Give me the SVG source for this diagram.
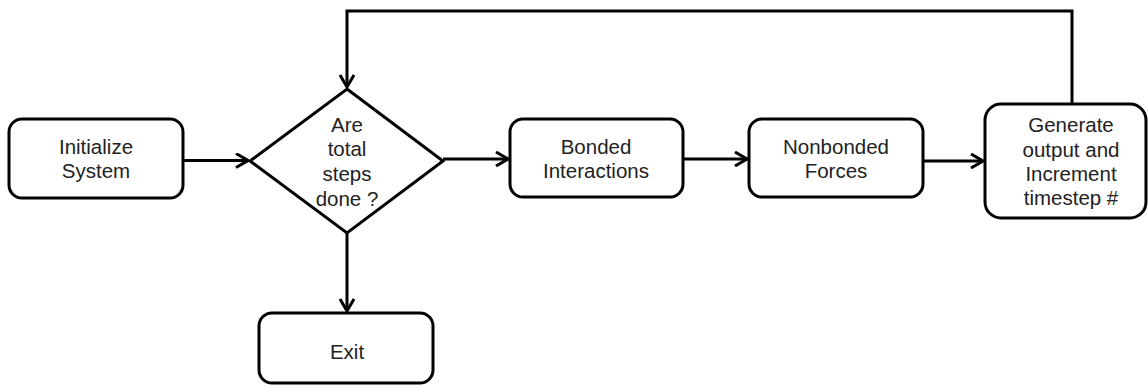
<svg xmlns="http://www.w3.org/2000/svg" width="1148" height="387" viewBox="0 0 1148 387">
<defs>
<style>
.box{fill:#fff;stroke:#000;stroke-width:3}
.t{font-family:"Liberation Sans",Arial,sans-serif;font-size:20.5px;fill:#222;text-anchor:middle}
.c{fill:none;stroke:#000;stroke-width:3}
</style>
<marker id="arr" viewBox="0 0 14 16" refX="13" refY="8" markerWidth="14" markerHeight="16" markerUnits="userSpaceOnUse" orient="auto">
<path d="M1,1 L13,8 L1,15" fill="none" stroke="#000" stroke-width="3"/>
</marker>
</defs>
<rect width="1148" height="387" fill="#fff"/>
<g id="connectors">
<line class="c" x1="183" y1="160.5" x2="248" y2="160.5" marker-end="url(#arr)"/>
<line class="c" x1="443" y1="159" x2="508" y2="159" marker-end="url(#arr)"/>
<line class="c" x1="683" y1="159" x2="747" y2="159" marker-end="url(#arr)"/>
<line class="c" x1="923" y1="161" x2="983" y2="161" marker-end="url(#arr)"/>
<line class="c" x1="347" y1="233" x2="347" y2="311" marker-end="url(#arr)"/>
<polyline class="c" points="1072,104 1072,11 347,11 347,87" marker-end="url(#arr)"/>
</g>
<g id="init">
<rect class="box" x="9" y="119" width="174" height="79" rx="13"/>
<text class="t" x="96" y="154">Initialize</text>
<text class="t" x="96" y="178">System</text>
</g>
<g id="decision">
<polygon class="box" points="347,89 443,161 347,233 250,161"/>
<text class="t" x="347" y="132">Are</text>
<text class="t" x="347" y="156">total</text>
<text class="t" x="347" y="181">steps</text>
<text class="t" x="347" y="206">done ?</text>
</g>
<g id="bonded">
<rect class="box" x="510" y="119" width="173" height="78" rx="13"/>
<text class="t" x="596" y="154">Bonded</text>
<text class="t" x="596" y="178">Interactions</text>
</g>
<g id="nonbonded">
<rect class="box" x="749" y="119" width="174" height="78" rx="13"/>
<text class="t" x="836" y="154">Nonbonded</text>
<text class="t" x="836" y="178">Forces</text>
</g>
<g id="generate">
<rect class="box" x="985" y="104" width="161" height="114" rx="16"/>
<text class="t" x="1071" y="132">Generate</text>
<text class="t" x="1071" y="157">output and</text>
<text class="t" x="1071" y="181">Increment</text>
<text class="t" x="1071" y="205">timestep #</text>
</g>
<g id="exit">
<rect class="box" x="259" y="313" width="174" height="70" rx="13"/>
<text class="t" x="347" y="359">Exit</text>
</g>
</svg>
